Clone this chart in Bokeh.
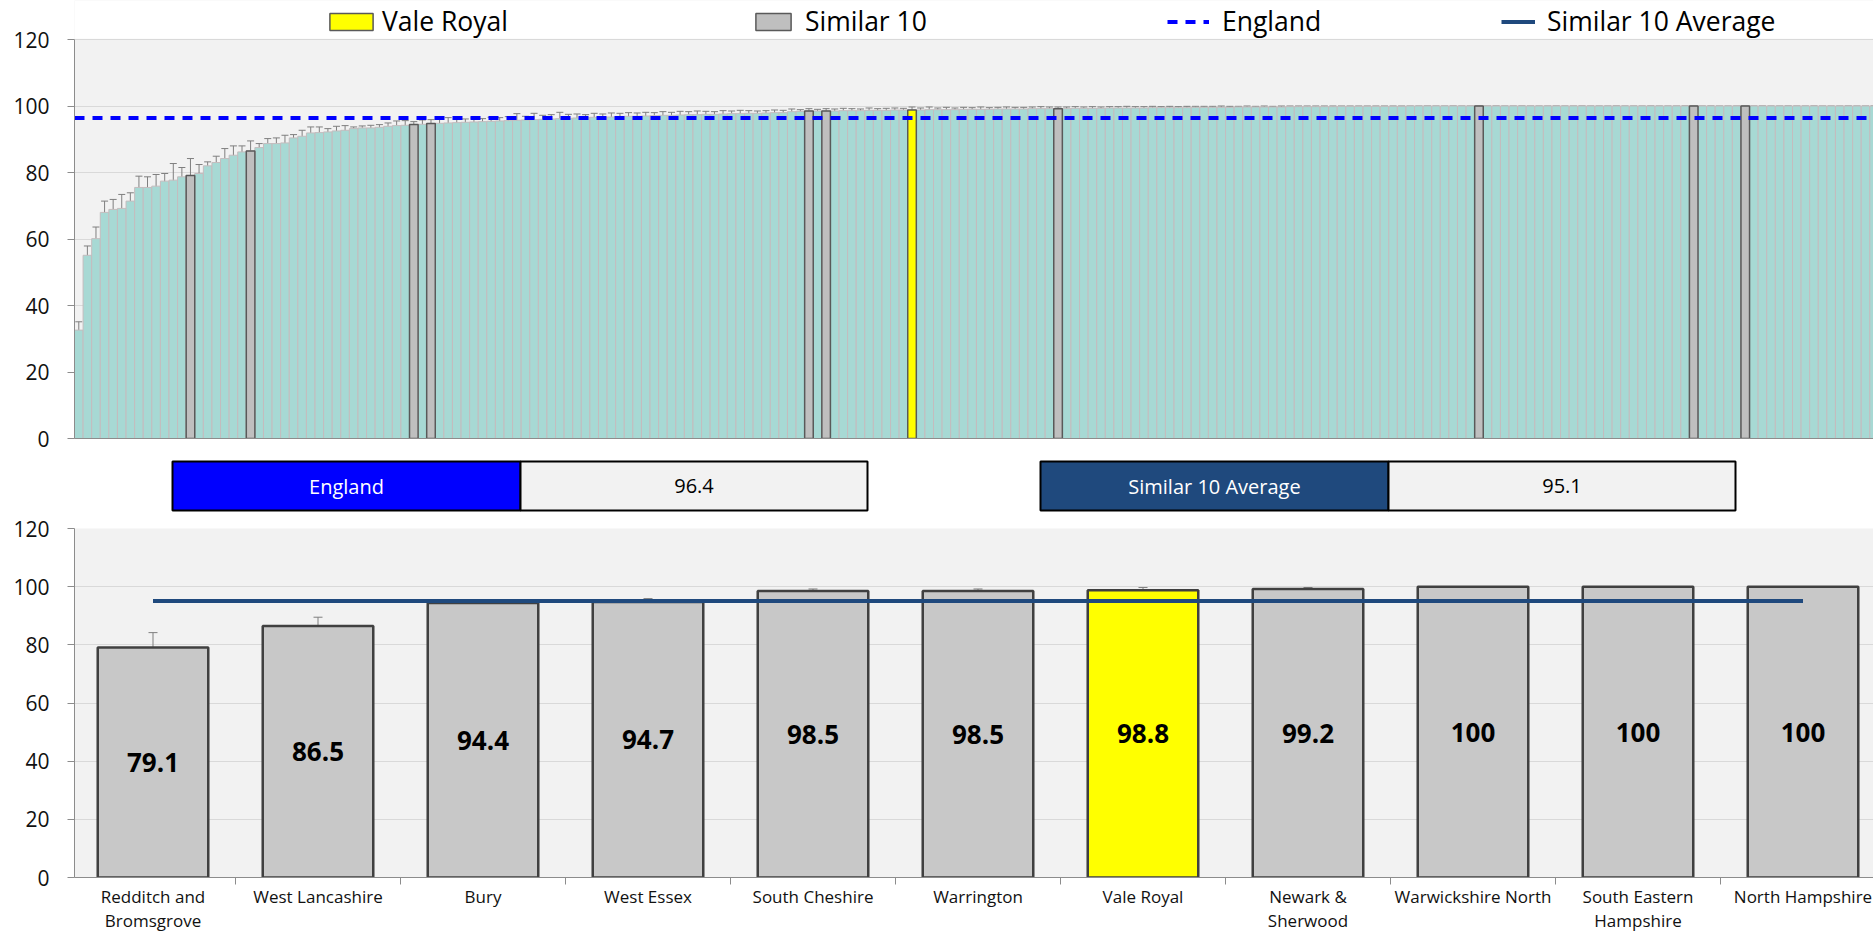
from bokeh.plotting import figure
from bokeh.models import (ColumnDataSource, Range1d, FixedTicker, Legend, LegendItem,
                          Whisker, TeeHead, BoxAnnotation)
from bokeh.layouts import column
from bokeh.embed import file_html
from bokeh.resources import INLINE
from bokeh.core.properties import value

# ---------------- data ----------------
ccg_values = [
    32.6, 55.1, 60.1, 68.0, 68.9, 69.2, 71.4, 75.5, 75.5, 75.9,
    77.4, 77.7, 78.7, 79.1, 79.7, 82.0, 83.0, 84.2, 85.2, 86.2,
    86.5, 87.5, 88.7, 88.7, 88.9, 90.4, 90.9, 91.9, 92.0, 92.2,
    92.5, 92.7, 93.2, 93.4, 93.4, 93.6, 93.9, 94.1, 94.2, 94.4,
    94.5, 94.7, 94.8, 94.9, 95.0, 95.1, 95.2, 95.3, 95.4, 95.5,
    95.6, 95.7, 95.8, 95.9, 96.0, 96.1, 96.2, 96.3, 96.4, 96.5,
    96.6, 96.6, 96.7, 96.8, 96.9, 96.9, 97.0, 97.1, 97.2, 97.2,
    97.3, 97.4, 97.4, 97.5, 97.5, 97.6, 97.7, 97.7, 97.8, 97.8,
    97.9, 98.0, 98.0, 98.3, 98.4, 98.5, 98.5, 98.5, 98.5, 98.6,
    98.6, 98.6, 98.7, 98.7, 98.7, 98.8, 98.8, 98.8, 98.8, 98.9,
    98.9, 98.9, 98.9, 99.0, 99.0, 99.0, 99.0, 99.1, 99.1, 99.1,
    99.1, 99.2, 99.2, 99.2, 99.2, 99.2, 99.3, 99.3, 99.3, 99.3,
    99.4, 99.4, 99.4, 99.4, 99.4, 99.5, 99.5, 99.5, 99.5, 99.5,
    99.6, 99.6, 99.6, 99.6, 99.6, 99.7, 99.7, 99.7, 99.7, 99.7,
    99.7, 99.8, 99.8, 99.8, 99.8, 99.8, 99.8, 99.9, 99.9, 99.9,
    99.9, 99.9, 99.9, 99.9, 99.9, 100, 100, 100, 100, 100,
    100, 100, 100, 100, 100, 100, 100, 100, 100, 100,
    100, 100, 100, 100, 100, 100, 100, 100, 100, 100,
    100, 100, 100, 100, 100, 100, 100, 100, 100, 100,
    100, 100, 100, 100, 100, 100, 100, 100, 100, 100,
    100, 100, 100, 100, 100, 100, 100, 100, 100, 100,
]
ccg_upper = [
    35.1, 57.9, 63.6, 71.4, 71.9, 73.4, 73.9, 78.9, 78.7, 79.4,
    79.7, 82.7, 81.5, 84.2, 82.4, 83.2, 84.9, 87.2, 88.0, 88.0,
    89.5, 88.7, 90.2, 90.4, 91.2, 91.4, 92.7, 93.7, 93.7, 93.2,
    93.9, 94.1, 93.7, 94.0, 94.2, 94.4, 94.9, 95.5, 95.6, 95.3,
    95.8, 95.9, 96.0, 96.5, 96.3, 96.1, 96.4, 96.2, 96.6, 96.5,
    96.8, 97.7, 96.9, 97.8, 97.2, 97.4, 98.1, 97.5, 97.6, 97.4,
    97.8, 97.6, 97.9, 97.8, 98.0, 97.9, 98.1, 98.0, 98.3, 98.1,
    98.4, 98.3, 98.5, 98.4, 98.3, 98.6, 98.5, 98.7, 98.6, 98.5,
    98.6, 98.8, 98.7, 99.1, 98.9, 99.2, 99.0, 99.2, 99.1, 99.3,
    99.2, 99.1, 99.4, 99.2, 99.3, 99.4, 99.3, 99.7, 99.4, 99.7,
    99.4, 99.6, 99.4, 99.6, 99.5, 99.7, 99.5, 99.6, 99.7, 99.6,
    99.6, 99.7, 99.8, 99.7, 99.7, 99.7, 99.8, 99.7, 99.8, 99.7,
    99.8, 99.8, 99.9, 99.8, 99.8, 99.9, 99.8, 99.9, 99.8, 99.9,
    99.9, 99.9, 99.9, 100, 99.9, 99.9, 100, 99.9, 100, 99.9,
    100, 100, 100, 100, 100, 100, 100, 100, 100, 100,
    100, 100, 100, 100, 100, 100, 100, 100, 100, 100,
    100, 100, 100, 100, 100, 100, 100, 100, 100, 100,
    100, 100, 100, 100, 100, 100, 100, 100, 100, 100,
    100, 100, 100, 100, 100, 100, 100, 100, 100, 100,
    100, 100, 100, 100, 100, 100, 100, 100, 100, 100,
    100, 100, 100, 100, 100, 100, 100, 100, 100, 100,
]
ccg_lower = [
    30.1, 52.4, 56.6, 64.4, 65.7, 64.8, 68.4, 71.7, 72.0, 72.0,
    74.5, 71.2, 74.9, 73.3, 76.4, 80.7, 80.9, 80.9, 82.2, 83.7,
    83.1, 86.2, 87.0, 86.7, 86.5, 88.5, 88.0, 89.7, 89.9, 91.2,
    90.4, 90.5, 91.7, 92.7, 92.2, 92.5, 92.7, 92.8, 92.9, 93.4,
    93.3, 93.1, 93.6, 93.3, 93.7, 94.1, 94.0, 94.4, 94.2, 94.5,
    94.4, 93.7, 94.7, 94.0, 94.8, 94.8, 94.3, 95.1, 95.2, 95.6,
    95.4, 95.6, 95.5, 95.8, 95.8, 95.9, 95.9, 96.2, 96.1, 96.3,
    96.2, 96.5, 96.3, 96.6, 96.7, 96.6, 96.9, 96.7, 97.0, 97.1,
    97.2, 97.2, 97.3, 97.5, 97.9, 97.3, 98.0, 97.6, 97.9, 97.9,
    98.0, 98.1, 98.0, 98.2, 98.1, 98.2, 98.3, 97.3, 98.2, 97.6,
    98.4, 98.2, 98.4, 98.4, 98.5, 98.3, 98.5, 98.6, 98.5, 98.6,
    98.6, 98.7, 98.6, 98.7, 98.1, 98.7, 98.8, 98.9, 98.8, 98.9,
    99.0, 99.0, 98.9, 99.0, 99.0, 99.1, 99.2, 99.1, 99.2, 99.1,
    99.3, 99.3, 99.3, 99.2, 99.3, 99.5, 99.4, 99.5, 99.4, 99.5,
    99.4, 99.6, 99.6, 99.5, 99.6, 99.6, 99.6, 99.7, 99.8, 99.7,
    99.7, 99.8, 99.7, 99.8, 99.8, 99.8, 99.0, 99.9, 99.8, 99.7,
    99.9, 99.8, 99.6, 99.7, 99.8, 99.9, 99.7, 99.8, 99.9, 99.6,
    99.8, 99.7, 99.9, 99.8, 99.7, 99.9, 99.8, 99.6, 99.8, 99.9,
    99.2, 99.8, 99.7, 99.9, 99.0, 99.8, 99.7, 99.9, 99.5, 99.8,
    99.9, 99.7, 99.8, 99.6, 99.7, 99.8, 99.9, 99.7, 99.8, 99.9,
    99.8, 99.7, 99.9, 99.8, 99.6, 99.8, 99.9, 99.7, 99.8, 99.9,
]

similar_names = ["Redditch and\nBromsgrove", "West Lancashire", "Bury", "West Essex",
                 "South Cheshire", "Warrington", "Vale Royal", "Newark &\nSherwood",
                 "Warwickshire North", "South Eastern\nHampshire", "North Hampshire"]
similar_values = [79.1, 86.5, 94.4, 94.7, 98.5, 98.5, 98.8, 99.2, 100, 100, 100]
similar_upper = [84.2, 89.5, 95.3, 95.9, 99.2, 99.2, 99.7, 99.7, 100, 100, 100]
similar_lower = [73.3, 83.1, 93.4, 93.1, 97.3, 97.6, 97.3, 98.1, 99.7, 99.5, 99.7]
similar_rank = [13, 20, 39, 41, 85, 87, 97, 114, 163, 188, 194]
highlight_name = "Vale Royal"
england_value = 96.4
similar_avg = 95.1
y_ticks = [0, 20, 40, 60, 80, 100, 120]

# ---------------- styles / layout (pixels) ----------------
FONT = "Open Sans"
BG = "#F2F2F2"
GRID = "#D9D9D9"
AXIS = "#8C8C8C"
TEAL = "#A7D9D4"
GREY_TOP = "#BFBFBF"
GREY_BOT = "#C8C8C8"
YELLOW = "#FFFF00"
ENG_BLUE = "#0000FF"
AVG_BLUE = "#1F497D"
W = 1873
LEFT = 74                      # common frame left edge (column aligns frames)

TOP_H, TOP_FRAME_H, TOP_Y120 = 453, 438, 39
BAR_PITCH = 8.59
BOX_H = 59
BOT_H, BOT_TOP, BOT_BOTTOM = 424, 16, 59
BOT_AXIS_X, CAT_PITCH = 70, 165


def style_y(p, standoff):
    p.yaxis.ticker = FixedTicker(ticks=y_ticks)
    p.ygrid.ticker = FixedTicker(ticks=y_ticks)
    p.ygrid.grid_line_color = GRID
    p.xgrid.visible = False
    p.yaxis.axis_line_color = AXIS
    p.yaxis.major_tick_line_color = AXIS
    p.yaxis.major_tick_out = 7
    p.yaxis.major_tick_in = 0
    p.yaxis.minor_tick_line_color = None
    p.yaxis.major_label_text_font = FONT
    p.yaxis.major_label_text_font_size = "21px"
    p.yaxis.major_label_text_color = "#111111"
    p.yaxis.major_label_standoff = standoff


# ---------------- top chart ----------------
n = len(ccg_values)
xs = [i + 0.5 for i in range(n)]
src = ColumnDataSource(dict(x=xs, top=ccg_values, upper=ccg_upper, lower=ccg_lower))

y_top_end = 120 * TOP_FRAME_H / (TOP_FRAME_H - TOP_Y120)
p1 = figure(width=W, height=TOP_H,
            x_range=Range1d(0, (W - LEFT) / BAR_PITCH), y_range=Range1d(0, y_top_end),
            output_backend="svg", toolbar_location=None,
            min_border_left=LEFT, min_border_right=0, min_border_top=0,
            min_border_bottom=TOP_H - TOP_FRAME_H,
            background_fill_color=BG, border_fill_color="white", outline_line_color=None)
style_y(p1, 18)
p1.yaxis.bounds = (0, 120)
p1.xaxis.ticker = FixedTicker(ticks=[])
p1.xaxis.axis_line_color = AXIS
p1.xaxis.major_label_text_font_size = "0px"
p1.xaxis.major_tick_line_color = None
p1.xaxis.minor_tick_line_color = None
p1.xaxis.major_label_standoff = 0
# white strip above the value axis (legend area)
p1.add_layout(BoxAnnotation(bottom=120.25, fill_color="white", fill_alpha=1,
                            line_color=None, level="underlay"))

p1.vbar(x="x", top="top", bottom=0, width=1, source=src,
        fill_color=TEAL, line_color="#C4BCBE", line_width=1)

sim_x, sim_top, vr_x, vr_top = [], [], [], []
for nm, rk in zip(similar_names, similar_rank):
    if nm == highlight_name:
        vr_x.append(rk + 0.5)
        vr_top.append(ccg_values[rk])
    else:
        sim_x.append(rk + 0.5)
        sim_top.append(ccg_values[rk])

r_sim = p1.vbar(x=sim_x, top=sim_top, bottom=0, width=1,
                fill_color=GREY_TOP, line_color="#595959", line_width=1.5)
r_vr = p1.vbar(x=vr_x, top=vr_top, bottom=0, width=1,
               fill_color=YELLOW, line_color="#595959", line_width=1.5)

p1.add_layout(Whisker(source=src, base="x", upper="upper", lower="lower",
                      line_color="#7F7F7F", line_width=1,
                      upper_head=TeeHead(size=7, line_color="#7F7F7F", line_width=1),
                      lower_head=TeeHead(size=7, line_color="#7F7F7F", line_width=1)))

r_eng = p1.line(x=[0, n], y=[england_value, england_value],
                line_color=ENG_BLUE, line_width=4, line_dash="10 8")
# legend-only entry: the similar-10 average is not drawn on the top chart
r_avg = p1.line(x=[0, n], y=[float("nan"), float("nan")], line_color=AVG_BLUE, line_width=4)


def add_legend(renderer, label, x, gw, gh, standoff):
    leg = Legend(items=[LegendItem(label=label, renderers=[renderer])],
                 location=(x, 399), orientation="horizontal",
                 glyph_width=gw, glyph_height=gh, label_standoff=standoff,
                 padding=0, margin=0, spacing=0,
                 border_line_color=None, background_fill_alpha=0,
                 label_text_font=FONT, label_text_font_size="26.5px",
                 label_text_color="#000000")
    p1.add_layout(leg, "center")


add_legend(r_vr, "Vale Royal", 250, 54, 21, 4)
add_legend(r_sim, "Similar 10", 677, 44, 21, 10)
add_legend(r_eng, "England", 1093, 42, 21, 13)
add_legend(r_avg, "Similar 10 Average", 1427, 34, 21, 12)

# ---------------- summary boxes ----------------
p2 = figure(width=W, height=BOX_H, x_range=Range1d(LEFT, W), y_range=Range1d(BOX_H, 0),
            output_backend="svg", toolbar_location=None,
            min_border_left=LEFT, min_border_right=0, min_border_top=0, min_border_bottom=0,
            background_fill_color="white", border_fill_color="white", outline_line_color=None)
p2.xaxis.visible = False
p2.yaxis.visible = False
p2.xgrid.visible = False
p2.ygrid.visible = False

box_labels = ["England", "Similar 10 Average"]
box_values = [england_value, similar_avg]
box_colors = [ENG_BLUE, AVG_BLUE]
label_left = [172, 1040]
split = [520, 1388]
value_right = [867, 1735]

p2.quad(left=label_left, right=split, top=8, bottom=57,
        fill_color=box_colors, line_color="black", line_width=2)
p2.quad(left=split, right=value_right, top=8, bottom=57,
        fill_color=BG, line_color="black", line_width=2)
p2.text(x=[(a + b) / 2 for a, b in zip(label_left, split)], y=[32.5, 32.5], text=box_labels,
        text_font=value(FONT), text_font_size="20px", text_color="white",
        text_align="center", text_baseline="middle")
p2.text(x=[(a + b) / 2 for a, b in zip(split, value_right)], y=[32.5, 32.5],
        text=[f"{v}" for v in box_values],
        text_font=value(FONT), text_font_size="20px", text_color="black",
        text_align="center", text_baseline="middle")

# ---------------- bottom chart ----------------
bx = [i + 0.5 for i in range(len(similar_names))]
bcolors = [YELLOW if nm == highlight_name else GREY_BOT for nm in similar_names]
bsrc = ColumnDataSource(dict(x=bx, top=similar_values, upper=similar_upper,
                             lower=similar_lower, color=bcolors,
                             mid=[v / 2 for v in similar_values],
                             lab=[f"{v:g}" for v in similar_values]))

p3 = figure(width=W, height=BOT_H,
            x_range=Range1d((LEFT - BOT_AXIS_X) / CAT_PITCH, (W - BOT_AXIS_X) / CAT_PITCH),
            y_range=Range1d(0, 120),
            output_backend="svg", toolbar_location=None,
            min_border_left=LEFT, min_border_right=0, min_border_top=BOT_TOP,
            min_border_bottom=BOT_BOTTOM,
            background_fill_color=BG, border_fill_color="white", outline_line_color=None)
style_y(p3, 18)
p3.xaxis.ticker = FixedTicker(ticks=bx, minor_ticks=list(range(len(bx) + 1)))
p3.xaxis.major_label_overrides = {x: nm for x, nm in zip(bx, similar_names)}
p3.xaxis.axis_line_color = AXIS
p3.xaxis.major_tick_out = 0
p3.xaxis.major_tick_in = 0
p3.xaxis.minor_tick_out = 7
p3.xaxis.minor_tick_in = 0
p3.xaxis.minor_tick_line_color = AXIS
p3.xaxis.major_label_text_font = FONT
p3.xaxis.major_label_text_font_size = "17px"
p3.xaxis.major_label_text_color = "#111111"
p3.xaxis.major_label_text_line_height = 1.05
p3.xaxis.major_label_standoff = 0

p3.vbar(x="x", top="top", bottom=0, width=0.67, source=bsrc,
        fill_color="color", line_color="#404040", line_width=2.5)
p3.add_layout(Whisker(source=bsrc, base="x", upper="upper", lower="lower",
                      line_color="#7F7F7F", line_width=1,
                      upper_head=TeeHead(size=9, line_color="#7F7F7F", line_width=1),
                      lower_head=TeeHead(size=9, line_color="#7F7F7F", line_width=1)))
p3.line(x=[bx[0], bx[-1]], y=[similar_avg, similar_avg], line_color=AVG_BLUE, line_width=4)
p3.text(x="x", y="mid", text="lab", source=bsrc,
        text_font=value(FONT), text_font_style="bold", text_font_size="26px",
        text_color="black", text_align="center", text_baseline="middle")

layout = column(p1, p2, p3)
open("out.html", "w").write(file_html(layout, INLINE))
